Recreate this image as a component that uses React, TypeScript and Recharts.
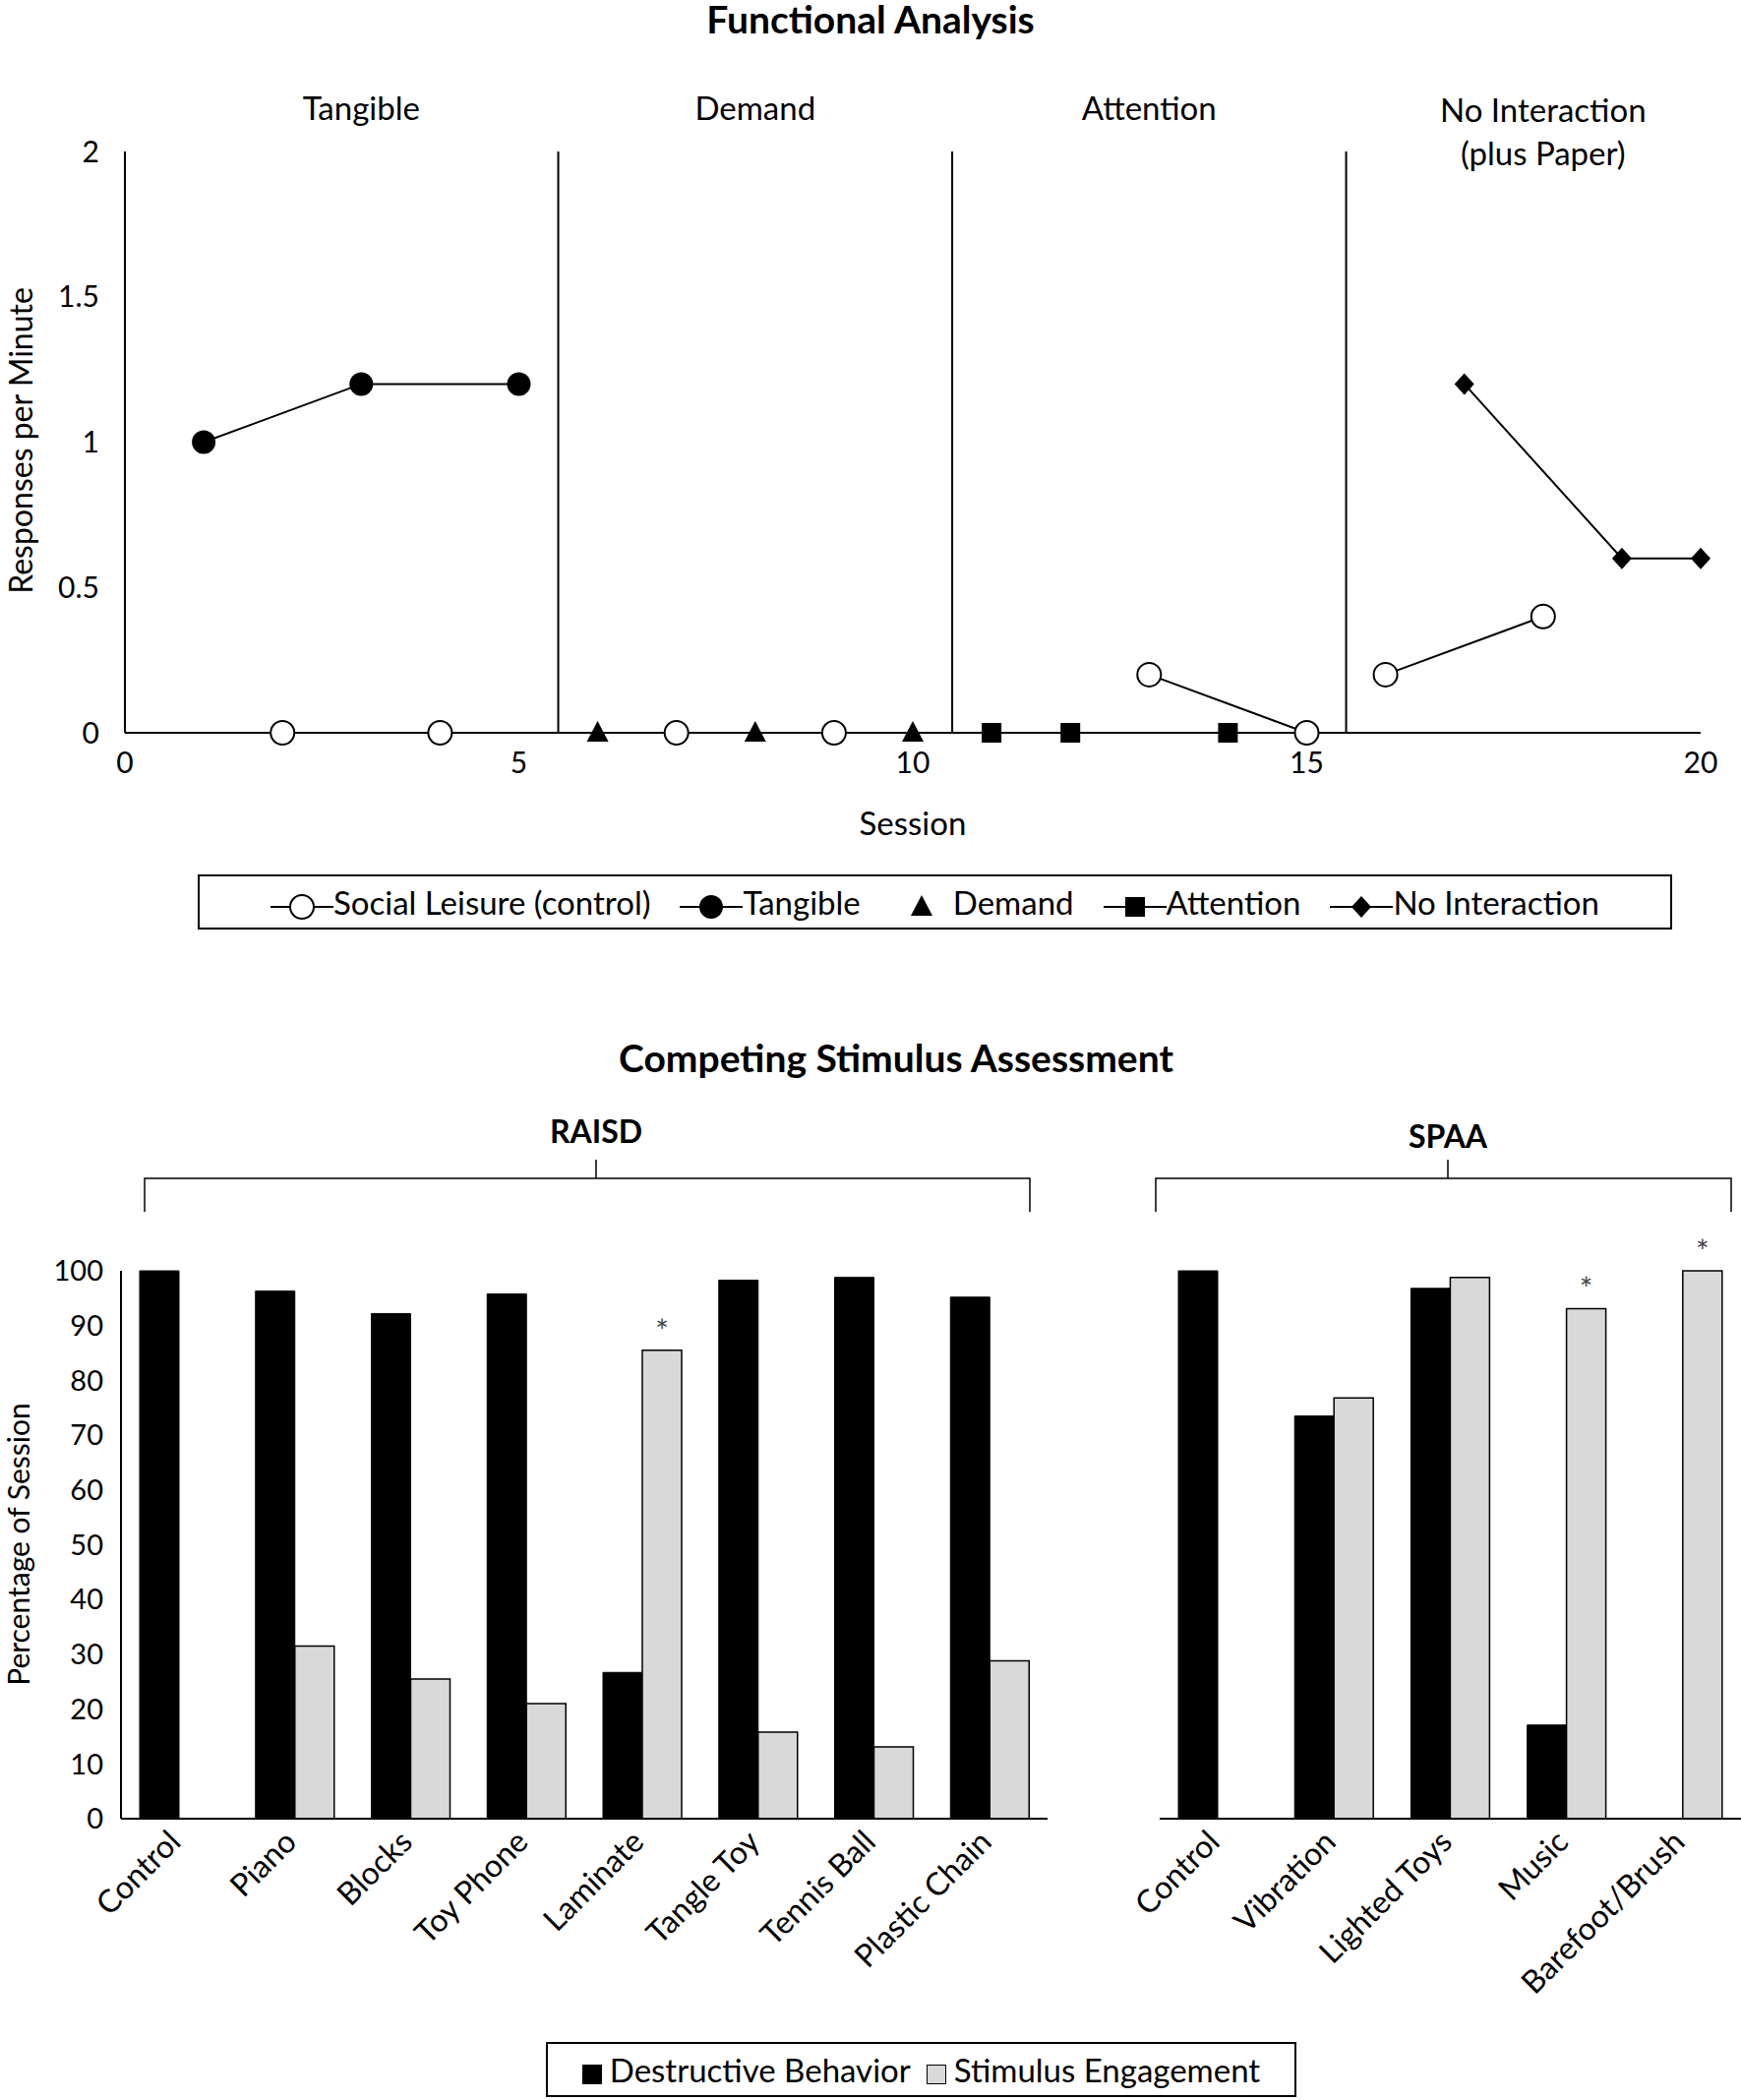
import React from "react";
import { LineChart, Line, XAxis, YAxis, ReferenceLine, BarChart, Bar, LabelList } from "recharts";

const FONT = "Lato, 'Open Sans', sans-serif";
const FS = 33;

const phaseNames = ["Tangible", "Demand", "Attention", "No Interaction\n(plus Paper)"];
const phaseCenters = [3, 8, 13, 18];
const phaseBreaks = [5.5, 10.5, 15.5];
const sessionTicks = [0, 5, 10, 15, 20];
const rateTicks = [0, 0.5, 1, 1.5, 2];

const socialLeisure = [
  { x: 2, y: 0 }, { x: 4, y: 0 }, { x: 5.5, y: null },
  { x: 7, y: 0 }, { x: 9, y: 0 }, { x: 10.5, y: null },
  { x: 13, y: 0.2 }, { x: 15, y: 0 }, { x: 15.5, y: null },
  { x: 16, y: 0.2 }, { x: 18, y: 0.4 },
];
const tangible = [{ x: 1, y: 1 }, { x: 3, y: 1.2 }, { x: 5, y: 1.2 }];
const demand = [{ x: 6, y: 0 }, { x: 8, y: 0 }, { x: 10, y: 0 }];
const attention = [{ x: 11, y: 0 }, { x: 12, y: 0 }, { x: 14, y: 0 }];
const noInteraction = [{ x: 17, y: 1.2 }, { x: 19, y: 0.6 }, { x: 20, y: 0.6 }];

const raisdCats = ["Control", "Piano", "Blocks", "Toy Phone", "Laminate", "Tangle Toy", "Tennis Ball", "Plastic Chain"];
const raisdDestructive = [100, 96.3, 92.2, 95.8, 26.7, 98.3, 98.8, 95.2];
const raisdEngagement = [0, 31.5, 25.5, 21, 85.5, 15.8, 13.1, 28.8];
const raisdStar = [false, false, false, false, true, false, false, false];

const spaaCats = ["Control", "Vibration", "Lighted Toys", "Music", "Barefoot/Brush"];
const spaaDestructive = [100, 73.5, 96.8, 17.1, 0];
const spaaEngagement = [0, 76.8, 98.8, 93.1, 100];
const spaaStar = [false, false, false, true, true];

const pctTicks = [0, 10, 20, 30, 40, 50, 60, 70, 80, 90, 100];

const raisdData = raisdCats.map((c, i) => ({ c, d: raisdDestructive[i], e: raisdEngagement[i], s: raisdStar[i] ? "*" : "" }));
const spaaData = spaaCats.map((c, i) => ({ c, d: spaaDestructive[i], e: spaaEngagement[i], s: spaaStar[i] ? "*" : "" }));

const mk = (kind: string) => (p: any) => {
  const { cx, cy, key } = p;
  if (cx == null || cy == null || p.value == null) return <g key={key} />;
  if (kind === "open") return <circle key={key} cx={cx} cy={cy} r={12} fill="#fff" stroke="#000" strokeWidth={2} />;
  if (kind === "fill") return <circle key={key} cx={cx} cy={cy} r={12} fill="#000" />;
  if (kind === "tri") return <polygon key={key} points={`${cx},${cy - 12} ${cx - 11},${cy + 9} ${cx + 11},${cy + 9}`} fill="#000" />;
  if (kind === "sq") return <rect key={key} x={cx - 10} y={cy - 10} width={20} height={20} fill="#000" />;
  return <polygon key={key} points={`${cx},${cy - 11} ${cx + 10},${cy} ${cx},${cy + 11} ${cx - 10},${cy}`} fill="#000" />;
};

const abs = (l: number, t: number, extra: any = {}) => ({ position: "absolute" as const, left: l, top: t, fontFamily: FONT, fontSize: FS, color: "#000", ...extra });

const RotTick = (p: any) => {
  const { x, y, payload } = p;
  return (
    <g transform={`translate(${x - 2},${y + 12})`}>
      <text transform="rotate(-45)" textAnchor="end" fontFamily={FONT} fontSize={32} fill="#000" dy={8}>{payload.value}</text>
    </g>
  );
};

const legItem = (shape: string) => (
  <svg width={64} height={30} style={{ verticalAlign: "middle" }}>
    <line x1={0} y1={15} x2={64} y2={15} stroke="#000" strokeWidth={2} />
    {mk(shape)({ cx: 32, cy: 15, value: 1, key: "k" })}
  </svg>
);

export default function App() {
  return (
    <div style={{ position: "absolute", left: 0, top: 0, width: 1770, height: 2135, background: "#fff", overflow: "hidden" }}>
      <div style={abs(0, -4, { width: 1770, textAlign: "center", fontWeight: 700, fontSize: 39 })}>Functional Analysis</div>
      {phaseNames.map((n, i) => (
        <div key={n} style={abs(127 + (phaseCenters[i] / 20) * 1602 - 200, i === 3 ? 89 : 87, { width: 400, textAlign: "center", whiteSpace: "pre-line", lineHeight: "44px" })}>{n}</div>
      ))}
      <div style={{ position: "absolute", left: 0, top: 0 }}>
        <LineChart width={1770} height={960} data={[]} margin={{ top: 154, right: 41, left: 0, bottom: 175 }}>
          <XAxis dataKey="x" type="number" domain={[0, 20]} ticks={sessionTicks} axisLine={{ stroke: "#000", strokeWidth: 2 }} tickLine={false} tick={{ fill: "#000", fontSize: 30, fontFamily: FONT }} tickMargin={14} height={40} allowDuplicatedCategory={false} />
          <YAxis type="number" domain={[0, 2]} ticks={rateTicks} width={127} axisLine={{ stroke: "#000", strokeWidth: 2 }} tickLine={false} tick={{ fill: "#000", fontSize: 30, fontFamily: FONT }} tickMargin={20} />
          {phaseBreaks.map((b) => (
            <ReferenceLine key={b} segment={[{ x: b, y: 0 }, { x: b, y: 2 }]} stroke="#000" strokeWidth={2} />
          ))}
          <Line data={socialLeisure} dataKey="y" stroke="#000" strokeWidth={2} dot={mk("open")} isAnimationActive={false} connectNulls={false} />
          <Line data={tangible} dataKey="y" stroke="#000" strokeWidth={2} dot={mk("fill")} isAnimationActive={false} />
          <Line data={demand} dataKey="y" stroke="none" dot={mk("tri")} isAnimationActive={false} />
          <Line data={attention} dataKey="y" stroke="none" dot={mk("sq")} isAnimationActive={false} />
          <Line data={noInteraction} dataKey="y" stroke="#000" strokeWidth={2} dot={mk("dia")} isAnimationActive={false} />
        </LineChart>
      </div>
      <div style={abs(20, 448, { transform: "translate(-50%,-50%) rotate(-90deg)", whiteSpace: "nowrap", fontSize: 32 })}>Responses per Minute</div>
      <div style={abs(928 - 200, 816, { width: 400, textAlign: "center" })}>Session</div>
      <div style={abs(201, 889, { width: 1499, height: 56, border: "2px solid #000", boxSizing: "border-box", display: "flex", alignItems: "center", justifyContent: "center", gap: 30 })}>
        <span>{legItem("open")}Social Leisure (control)</span>
        <span>{legItem("fill")}Tangible</span>
        <span><svg width={64} height={30} style={{ verticalAlign: "middle" }}>{mk("tri")({ cx: 32, cy: 15, value: 1, key: "k" })}</svg>Demand</span>
        <span>{legItem("sq")}Attention</span>
        <span>{legItem("dia")}No Interaction</span>
      </div>

      <div style={abs(0, 1052, { width: 1770, textAlign: "center", fontWeight: 700, fontSize: 39, left: 26 })}>Competing Stimulus Assessment</div>
      <div style={abs(406, 1130, { width: 400, textAlign: "center", fontWeight: 700, fontSize: 32 })}>RAISD</div>
      <div style={abs(1272, 1135, { width: 400, textAlign: "center", fontWeight: 700, fontSize: 32 })}>SPAA</div>
      <svg style={{ position: "absolute", left: 0, top: 0 }} width={1770} height={1250}>
        <path d="M147,1232 V1198 H1047 V1232 M606,1198 V1179" fill="none" stroke="#000" strokeWidth={1.5} />
        <path d="M1175,1232 V1198 H1760 V1232 M1472,1198 V1179" fill="none" stroke="#000" strokeWidth={1.5} />
      </svg>

      <div style={{ position: "absolute", left: 0, top: 1250 }}>
        <BarChart width={1080} height={900} data={raisdData} margin={{ top: 42, right: 15, left: 0, bottom: 0 }} barGap={0} barSize={40}>
          <XAxis dataKey="c" axisLine={{ stroke: "#000", strokeWidth: 2 }} tickLine={false} tick={<RotTick />} interval={0} height={301} />
          <YAxis domain={[0, 100]} ticks={pctTicks} width={123} axisLine={{ stroke: "#000", strokeWidth: 2 }} tickLine={false} tick={{ fill: "#000", fontSize: 29, fontFamily: FONT }} tickMargin={12} />
          <Bar dataKey="d" fill="#000" stroke="#000" isAnimationActive={false} />
          <Bar dataKey="e" fill="#d9d9d9" stroke="#000" strokeWidth={1.5} isAnimationActive={false}>
            <LabelList dataKey="s" position="top" offset={8} style={{ fontSize: 32, fontFamily: FONT, fill: "#444" }} />
          </Bar>
        </BarChart>
      </div>
      <div style={{ position: "absolute", left: 1075, top: 1250 }}>
        <BarChart width={695} height={900} data={spaaData} margin={{ top: 42, right: 0, left: 104, bottom: 0 }} barGap={0} barSize={40}>
          <XAxis dataKey="c" axisLine={{ stroke: "#000", strokeWidth: 2 }} tickLine={false} tick={<RotTick />} interval={0} height={301} />
          <YAxis hide domain={[0, 100]} />
          <Bar dataKey="d" fill="#000" stroke="#000" isAnimationActive={false} />
          <Bar dataKey="e" fill="#d9d9d9" stroke="#000" strokeWidth={1.5} isAnimationActive={false}>
            <LabelList dataKey="s" position="top" offset={8} style={{ fontSize: 32, fontFamily: FONT, fill: "#444" }} />
          </Bar>
        </BarChart>
      </div>
      <div style={abs(18, 1570, { transform: "translate(-50%,-50%) rotate(-90deg)", whiteSpace: "nowrap", fontSize: 30 })}>Percentage of Session</div>
      <div style={abs(555, 2076, { width: 763, height: 56, border: "2px solid #000", boxSizing: "border-box", display: "flex", alignItems: "center", justifyContent: "center", gap: 16 })}>
        <span><span style={{ display: "inline-block", width: 20, height: 20, background: "#000", marginRight: 8, verticalAlign: "middle" }} />Destructive Behavior</span>
        <span><span style={{ display: "inline-block", width: 18, height: 18, background: "#d9d9d9", border: "1px solid #000", marginRight: 8, verticalAlign: "middle" }} />Stimulus Engagement</span>
      </div>
    </div>
  );
}
